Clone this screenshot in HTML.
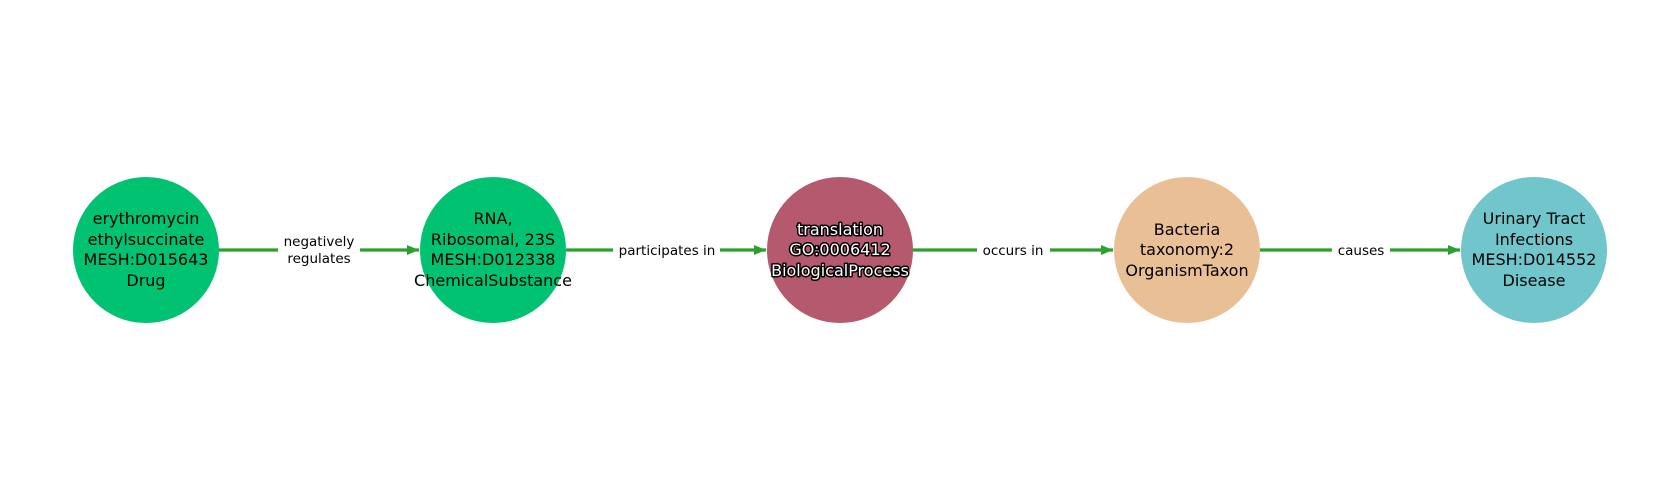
<!DOCTYPE html>
<html><head><meta charset="utf-8"><style>
html,body{margin:0;padding:0;background:#fff;}
svg{display:block;}
text{font-family:"DejaVu Sans","Liberation Sans",sans-serif;}
</style></head><body>
<svg width="1680" height="500" viewBox="0 0 1680 500" xmlns="http://www.w3.org/2000/svg">
<defs>
<marker id="ah" markerWidth="12" markerHeight="10" refX="12" refY="5" orient="auto" markerUnits="userSpaceOnUse">
<path d="M0,0 L12,5 L0,10 Z" fill="#2ca02c"/>
</marker>
</defs>
<g stroke="#2ca02c" stroke-width="3.2" fill="none">
<line x1="219" y1="250" x2="419" y2="250" marker-end="url(#ah)"/>
<line x1="566" y1="250" x2="766" y2="250" marker-end="url(#ah)"/>
<line x1="913" y1="250" x2="1113" y2="250" marker-end="url(#ah)"/>
<line x1="1260" y1="250" x2="1460" y2="250" marker-end="url(#ah)"/>
</g>
<g fill="#fff">
<rect x="278" y="232" width="82" height="36"/>
<rect x="613" y="240" width="107" height="20"/>
<rect x="977" y="240" width="73" height="20"/>
<rect x="1332" y="240" width="58" height="20"/>
</g>
<g font-size="13.5" text-anchor="middle" fill="#000">
<text x="319" y="246">negatively</text>
<text x="319" y="263">regulates</text>
<text x="667" y="255">participates in</text>
<text x="1013" y="255">occurs in</text>
<text x="1361" y="255">causes</text>
</g>
<circle cx="146" cy="250" r="73" fill="#00c271"/>
<circle cx="493" cy="250" r="73" fill="#00c271"/>
<circle cx="840" cy="250" r="73" fill="#b5596e"/>
<circle cx="1187" cy="250" r="73" fill="#e9bf96"/>
<circle cx="1534" cy="250" r="73" fill="#70c6cb"/>
<g font-size="16" text-anchor="middle" fill="#000">
<text x="146" y="224">erythromycin</text>
<text x="146" y="245">ethylsuccinate</text>
<text x="146" y="265">MESH:D015643</text>
<text x="146" y="286">Drug</text>
<text x="493" y="224">RNA,</text>
<text x="493" y="245">Ribosomal, 23S</text>
<text x="493" y="265">MESH:D012338</text>
<text x="493" y="286">ChemicalSubstance</text>
<text x="1187" y="235">Bacteria</text>
<text x="1187" y="255">taxonomy:2</text>
<text x="1187" y="276">OrganismTaxon</text>
<text x="1534" y="224">Urinary Tract</text>
<text x="1534" y="245">Infections</text>
<text x="1534" y="265">MESH:D014552</text>
<text x="1534" y="286">Disease</text>
</g>
<g font-size="16" text-anchor="middle" fill="#fff" stroke="#000" stroke-width="3" paint-order="stroke" stroke-linejoin="round">
<text x="840" y="235">translation</text>
<text x="840" y="255">GO:0006412</text>
<text x="840" y="276">BiologicalProcess</text>
</g>
</svg>
</body></html>
